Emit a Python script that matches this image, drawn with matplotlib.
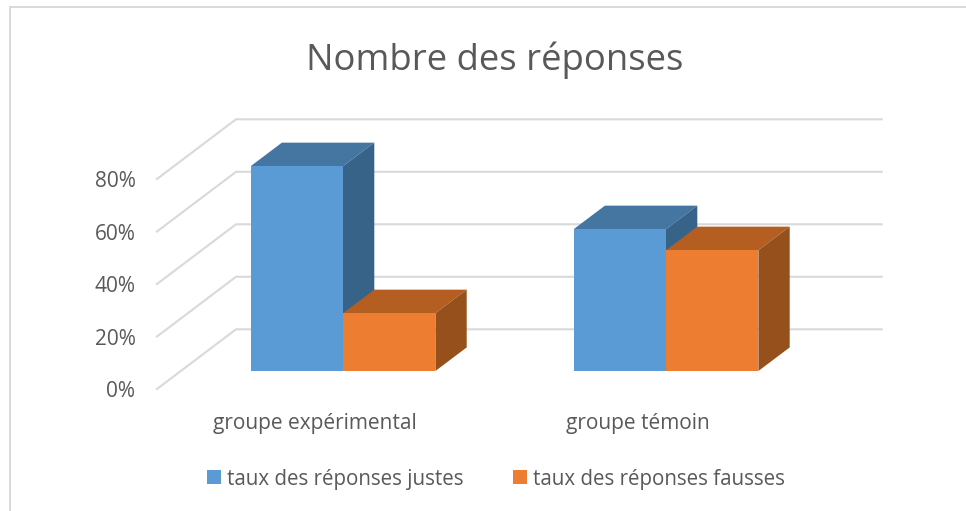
import matplotlib
matplotlib.use("Agg")
import matplotlib.pyplot as plt
from matplotlib.patches import Polygon, Patch
from matplotlib.lines import Line2D

plt.rcParams['font.family'] = ['Open Sans', 'DejaVu Sans']

title = "Nombre des réponses"
categories = ["groupe expérimental", "groupe témoin"]
series_names = ["taux des réponses justes", "taux des réponses fausses"]
justes = [78, 54]
fausses = [22, 46]
yticks = [0, 20, 40, 60, 80]
ytick_labels = ["0%", "20%", "40%", "60%", "80%"]
grid_levels = [0, 20, 40, 60, 80]

W, H = 966, 511
TEXT = "#595959"
GRID = "#d9d9d9"
BLUE, BLUE_TOP, BLUE_SIDE = "#5b9bd5", "#4575a1", "#386389"
ORANGE, ORANGE_TOP, ORANGE_SIDE = "#ed7d31", "#b45e22", "#96501b"

fig = plt.figure(figsize=(W / 100, H / 100), dpi=100)
fig.patch.set_facecolor("white")

# axes box is the front plane of the pseudo-3D chart
L, R, B, T = 157, 881.7, 389, 179
ax = fig.add_axes([L / W, 1 - B / H, (R - L) / W, (B - T) / H])
ax.patch.set_alpha(0)
PX_X = 323.0
PX_Y = (B - T) / 80.0
ax.set_xlim((L - 315) / PX_X, (R - 315) / PX_X)
ax.set_ylim(0, 80)
for s in ax.spines.values():
    s.set_visible(False)

wall_dx, wall_dy = 79 / PX_X, 59.7 / PX_Y
shift_x, shift_y = 28 / PX_X, 18 / PX_Y
dep_x, dep_y = 31.3 / PX_X, 23.6 / PX_Y
bw = 92.4 / PX_X
x_end = ax.get_xlim()[1]
x_start = ax.get_xlim()[0]

for lv in grid_levels:
    ax.plot([x_start, x_start + wall_dx, x_end], [lv, lv + wall_dy, lv + wall_dy],
            color=GRID, lw=1.5, clip_on=False, zorder=1, solid_joinstyle="round")


def bar3d(x_left, v, front, top, side, z):
    ax.bar(x_left, v, width=bw, bottom=shift_y, align="edge", color=front,
           linewidth=0, zorder=z + 0.2, clip_on=False)
    x0, x1 = x_left, x_left + bw
    y0, y1 = shift_y, shift_y + v
    ax.add_patch(Polygon([(x0, y1), (x1, y1), (x1 + dep_x, y1 + dep_y), (x0 + dep_x, y1 + dep_y)],
                         closed=True, facecolor=top, edgecolor="none", zorder=z, clip_on=False))
    ax.add_patch(Polygon([(x1, y0), (x1, y1), (x1 + dep_x, y1 + dep_y), (x1 + dep_x, y0 + dep_y)],
                         closed=True, facecolor=side, edgecolor="none", zorder=z, clip_on=False))


for i in range(len(categories)):
    c = i + shift_x
    bar3d(c - bw, justes[i], BLUE, BLUE_TOP, BLUE_SIDE, 2)
    bar3d(c, fausses[i], ORANGE, ORANGE_TOP, ORANGE_SIDE, 3)

ax.set_yticks(yticks, ytick_labels)
ax.set_xticks(range(len(categories)), categories)
ax.tick_params(axis="y", length=0, pad=15.5, labelsize=15, labelcolor=TEXT)
ax.tick_params(axis="x", length=0, pad=17.5, labelsize=15, labelcolor=TEXT)

fig.text(495 / W, 1 - 60 / H, title, ha="center", va="center", fontsize=26.3, color=TEXT)

handles = [Patch(facecolor=BLUE, label=series_names[0]), Patch(facecolor=ORANGE, label=series_names[1])]
fig.legend(handles=handles, loc="center", bbox_to_anchor=(496 / W, 1 - 479 / H), ncol=2, frameon=False,
           fontsize=14.8, labelcolor=TEXT, handlelength=0.67, handleheight=0.67,
           handletextpad=0.29, columnspacing=2.4)

# chart frame
fig.add_artist(Line2D([10 / W, 10 / W], [0, 1 - 7.5 / H], color=GRID, lw=1.4))
fig.add_artist(Line2D([10 / W, 1], [1 - 7.5 / H, 1 - 7.5 / H], color=GRID, lw=1.4))

fig.savefig("out.png", dpi=100)
